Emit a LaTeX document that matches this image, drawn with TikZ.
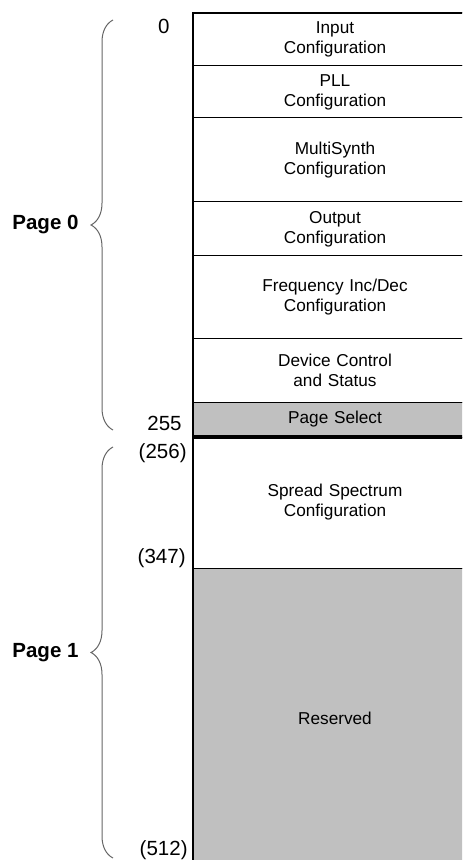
\documentclass[tikz,border=0pt]{standalone}
\usepackage{fontspec}
\setmainfont{Liberation Sans}
\usetikzlibrary{positioning,decorations.pathreplacing}
\definecolor{regGray}{HTML}{C0C0C0}
\tikzset{
    row/.style={rectangle, draw, line width=0.5pt, minimum width=142pt, text width=130pt,
        align=center, inner sep=0pt, outer sep=0pt, font=\fontsize{8.6}{10}\selectfont},
    grey row/.style={row, fill=regGray},
    page brace/.style={decorate, decoration={brace, amplitude=11pt}, draw=black!60, line width=0.5pt}
}

\begin{document}
\begin{tikzpicture}[x=0.5pt, y=-0.5pt,
    addr/.style={anchor=east, inner sep=0pt, font=\fontsize{10.25}{12}\selectfont},
    page label/.style={inner sep=0pt, font=\fontsize{10.25}{12}\selectfont\bfseries}]
\useasboundingbox (0,0) rectangle (462,860);
\clip (0,0) rectangle (462,860);

\node[row, minimum height=26.5pt] (input) at (335,39.5) {Input\\Configuration};
\node[row, minimum height=26pt, below=0pt of input] (pll) {PLL\\Configuration};
\node[row, minimum height=42pt, below=0pt of pll] (msynth) {MultiSynth\\Configuration};
\node[row, minimum height=27pt, below=0pt of msynth] (output) {Output\\Configuration};
\node[row, minimum height=41.5pt, below=0pt of output] (freq) {Frequency Inc/Dec\\Configuration};
\node[row, minimum height=31.5pt, below=0pt of freq] (devctl) {Device Control\\and Status};
\node[grey row, minimum height=17.5pt, below=0pt of devctl] (pagesel) {Page Select};
\node[row, minimum height=65.5pt, below=0pt of pagesel] (spread) {Spread Spectrum\\Configuration};
\node[grey row, minimum height=150pt, below=0pt of spread] (reserved) {Reserved};

\draw[line width=1.4pt] (input.north east) -- (input.north west) -- (reserved.south west);
\draw[line width=2pt] (pagesel.south west) -- (pagesel.south east);

\node[addr] (a0) at (170,26) {0};
\node[addr] (a255) at (182,423) {255};
\node[addr] (a256) at (187,453) {(256)};
\node[addr] (a347) at (186,558) {(347)};
\node[addr] (a512) at (188,850) {(512)};

\coordinate (p0 top) at (113,20);
\coordinate (p0 bot) at (113,430);
\coordinate (p1 top) at (113,447);
\coordinate (p1 bot) at (113,858);
\draw[page brace] (p0 bot) -- node[page label, left=17pt] (page0) {Page 0} (p0 top);
\draw[page brace] (p1 bot) -- node[page label, left=17pt] (page1) {Page 1} (p1 top);
%\draw[page brace, mirror] (p0 top) -- (p0 bot);
\end{tikzpicture}
\end{document}
